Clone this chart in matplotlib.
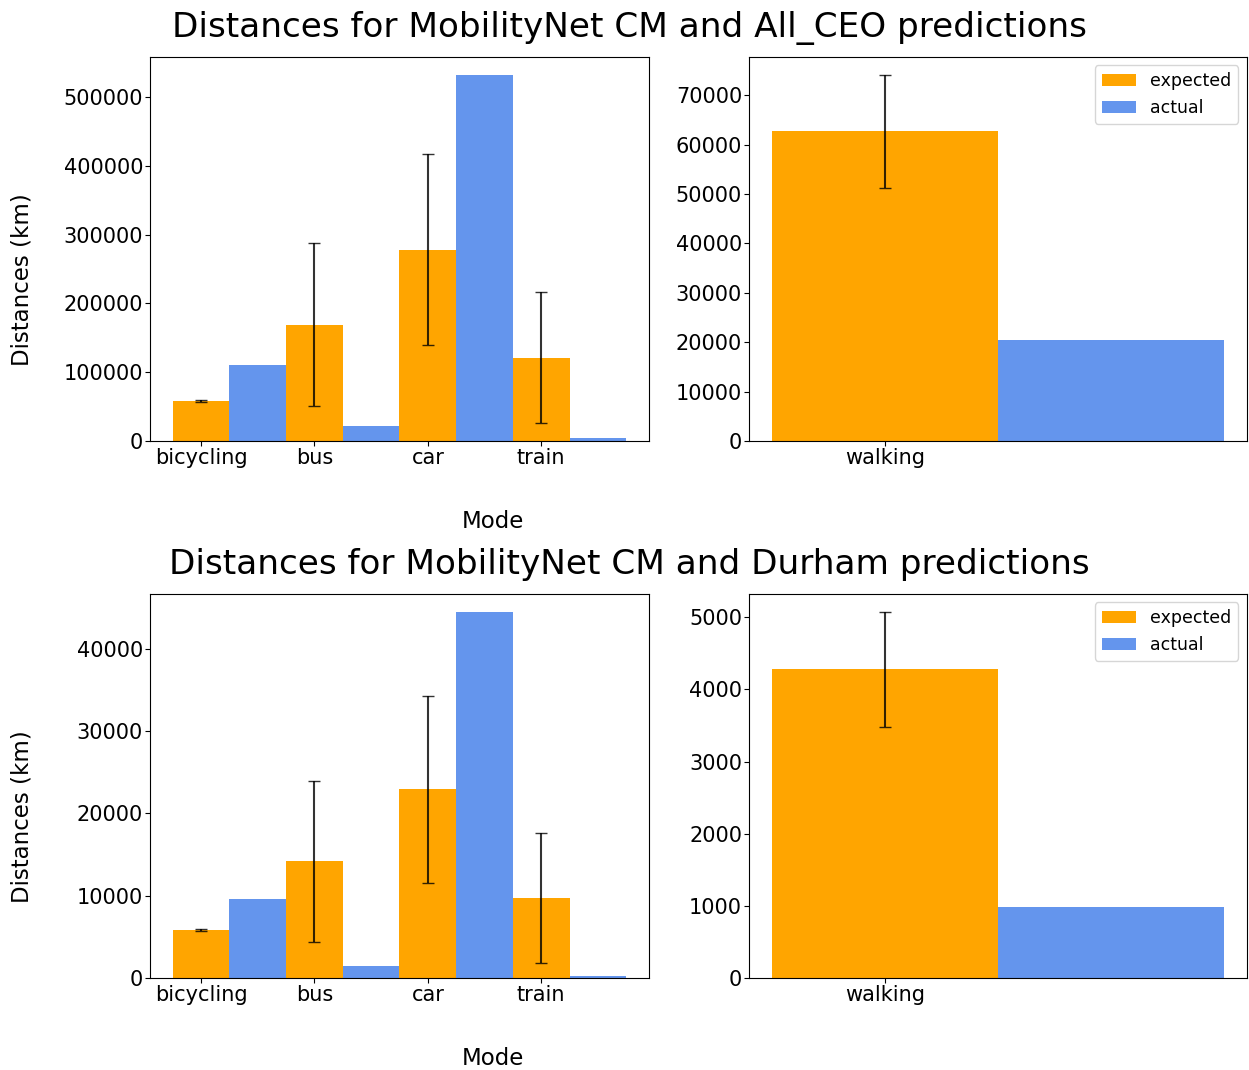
import numpy as np
import matplotlib.pyplot as plt

modes = ["bicycling", "bus", "car", "train"]
side_mode = ["walking"]

# MobilityNet CM vs All_CEO
ceo_expected = [58100, 169200, 278200, 121200]
ceo_expected_err = [1500, 118700, 138800, 95400]
ceo_actual = [111000, 21800, 532500, 4900]
ceo_walk_expected = [62700]
ceo_walk_err = [11450]
ceo_walk_actual = [20500]

# MobilityNet CM vs Durham
durham_expected = [5850, 14150, 22900, 9700]
durham_expected_err = [150, 9760, 11330, 7880]
durham_actual = [9540, 1450, 44440, 280]
durham_walk_expected = [4280]
durham_walk_err = [795]
durham_walk_actual = [983]

EXP_COLOR = "orange"
ACT_COLOR = "cornflowerblue"
W = 0.5

plt.rcParams["font.size"] = 15

fig = plt.figure(figsize=(12.49, 10.70), dpi=100)


def bar_pair(ax, labels, exp, err, act, legend=False):
    x = np.arange(len(labels))
    ax.bar(x, exp, W, yerr=err, color=EXP_COLOR, label="expected",
           capsize=4, error_kw=dict(ecolor="black", elinewidth=1.5, alpha=0.8))
    ax.bar(x + W, act, W, color=ACT_COLOR, label="actual")
    ax.set_xticks(x)
    ax.set_xticklabels(labels)
    ax.tick_params(labelsize=15, pad=1.5)
    if legend:
        ax.legend(loc="upper right", fontsize=12.5)


rows = [
    ("Distances for MobilityNet CM and All_CEO predictions", 0.5879,
     ceo_expected, ceo_expected_err, ceo_actual,
     ceo_walk_expected, ceo_walk_err, ceo_walk_actual),
    ("Distances for MobilityNet CM and Durham predictions", 0.0860,
     durham_expected, durham_expected_err, durham_actual,
     durham_walk_expected, durham_walk_err, durham_walk_actual),
]

for title, bottom, exp, err, act, wexp, werr, wact in rows:
    h = 0.3592
    ax1 = fig.add_axes([0.1201, bottom, 0.3995, h])
    ax2 = fig.add_axes([0.5997, bottom, 0.3987, h])
    bar_pair(ax1, modes, exp, err, act)
    bar_pair(ax2, side_mode, wexp, werr, wact, legend=True)
    top = bottom + h
    fig.text(0.504, top + 0.027, title, ha="center", va="center", fontsize=24.7)
    fig.text(0.395, bottom - 0.075, "Mode", ha="center", va="center", fontsize=16.5)
    fig.text(0.0176, bottom + h * 0.42, "Distances (km)", ha="center", va="center",
             rotation=90, fontsize=16.5)

fig.savefig("out.png", dpi=100)
